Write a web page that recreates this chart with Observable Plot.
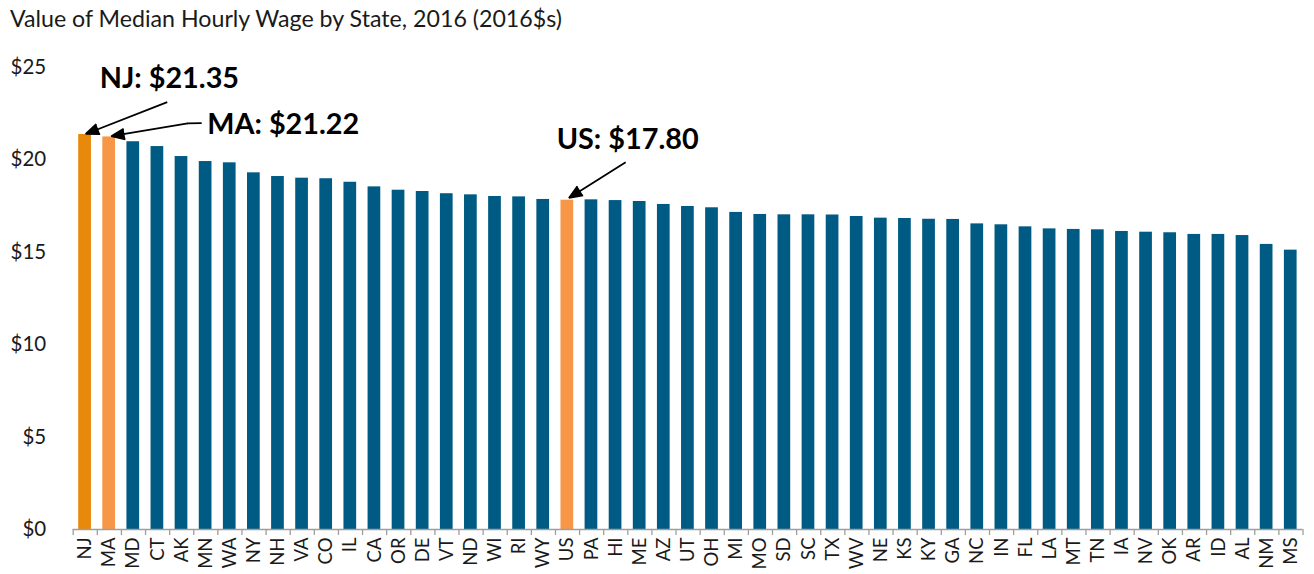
<!DOCTYPE html>
<html>
<head>
<meta charset="utf-8">
<script src="https://cdn.jsdelivr.net/npm/d3@7"></script>
<script src="https://cdn.jsdelivr.net/npm/@observablehq/plot@0.6"></script>
<style>
  html, body { margin: 0; padding: 0; background: #fff; overflow: hidden; }
  #title { height: 36px; line-height: 36px; padding-left: 10px; font-family: Lato, sans-serif; font-size: 23.2px; color: #1a1a1a; white-space: nowrap; }
</style>
</head>
<body>
<div id="title">Value of Median Hourly Wage by State, 2016 (2016$s)</div>
<div id="chart"></div>
<script>
const states = ["NJ","MA","MD","CT","AK","MN","WA","NY","NH","VA","CO","IL","CA","OR","DE","VT","ND","WI","RI","WY","US","PA","HI","ME","AZ","UT","OH","MI","MO","SD","SC","TX","WV","NE","KS","KY","GA","NC","IN","FL","LA","MT","TN","IA","NV","OK","AR","ID","AL","NM","MS"];
const wages = [21.35,21.22,20.96,20.70,20.16,19.89,19.82,19.28,19.08,18.99,18.96,18.77,18.52,18.34,18.27,18.15,18.09,18.00,17.98,17.84,17.80,17.82,17.78,17.73,17.57,17.46,17.39,17.14,17.03,17.01,17.01,17.00,16.92,16.83,16.81,16.77,16.76,16.52,16.47,16.36,16.25,16.22,16.20,16.11,16.07,16.04,15.95,15.95,15.89,15.41,15.10];
const yTicks = [0, 5, 10, 15, 20, 25];

// annotation labels and their anchor points (data coordinates: x = category index, y = dollars)
const annLabels = ["NJ: $21.35", "MA: $21.22", "US: $17.80"];
const annTextX = [0.60, 5.06, 19.55];
const annTextY = [24.35, 21.86, 21.08];
const arrowTailX = [3.40, 4.25, 22.41];
const arrowTailY = [23.10, 21.95, 19.85];
const arrowTipX = [0.02, 1.08, 20.06];
const arrowTipY = [21.38, 21.26, 17.92];
const maLeaderX = [4.80, 4.25];
const maLeaderY = [21.97, 21.95];

const data = states.map((s, i) => ({i, state: s, wage: wages[i]}));
const ann = annLabels.map((t, k) => ({t, x: annTextX[k], y: annTextY[k], x1: arrowTailX[k], y1: arrowTailY[k], x2: arrowTipX[k], y2: arrowTipY[k]}));
const leader = maLeaderX.map((x, k) => ({x, y: maLeaderY[k]}));

const NJ_ORANGE = "#E8890C", LIGHT_ORANGE = "#F79646", BLUE = "#005B84";
const barColor = d => d.state === "NJ" ? NJ_ORANGE : (d.state === "MA" || d.state === "US") ? LIGHT_ORANGE : BLUE;

const plot = Plot.plot({
  width: 1314,
  height: 538,
  marginLeft: 72.7,
  marginRight: 11.5,
  marginTop: 30.5,
  marginBottom: 45,
  style: {fontFamily: "Lato, sans-serif", color: "#1a1a1a", background: "#fff"},
  x: {type: "linear", domain: [-0.5, states.length - 0.5]},
  y: {domain: [0, 25]},
  marks: [
    Plot.rectY(data, {x1: d => d.i - 0.5, x2: d => d.i + 0.5, y: "wage", fill: barColor, insetLeft: 5.5, insetRight: 5.9}),
    Plot.ruleY([0], {stroke: "#9e9e9e", strokeWidth: 1.3}),
    Plot.axisX({ticks: d3.range(states.length + 1).map(i => i - 0.5), tickFormat: () => "", tickSize: 6, stroke: "#9e9e9e", strokeWidth: 1.3}),
    Plot.axisX({ticks: d3.range(states.length), tickFormat: i => states[i], tickSize: 0, tickPadding: 8, tickRotate: -90, fontSize: 18.5, label: null}),
    Plot.axisY({ticks: yTicks, tickFormat: d => "$" + d, tickSize: 0, tickPadding: 27, fontSize: 20.5, label: null}),
    Plot.line(leader, {x: "x", y: "y", stroke: "#000", strokeWidth: 1.8}),
    Plot.arrow(ann, {x1: "x1", y1: "y1", x2: "x2", y2: "y2", stroke: "#000", fill: "#000", strokeWidth: 1.8, headLength: 12, headAngle: 44, strokeLinecap: "butt", strokeLinejoin: "miter"}),
    Plot.text(ann, {x: "x", y: "y", text: "t", textAnchor: "start", fontSize: 28.8, fontWeight: "bold", fill: "#000"})
  ]
});
document.getElementById("chart").appendChild(plot);
</script>
</body>
</html>
